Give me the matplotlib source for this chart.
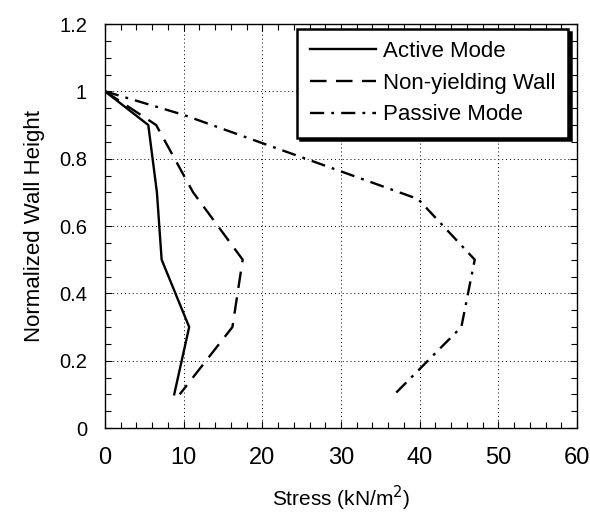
import matplotlib
matplotlib.use('Agg')
import matplotlib.pyplot as plt
from matplotlib.ticker import MultipleLocator

plt.rcParams['font.family'] = ['Liberation Sans', 'DejaVu Sans']

# normalized wall height for each series
active_h = [1.0, 0.9, 0.7, 0.5, 0.3, 0.1]
active_s = [0.0, 5.5, 6.6, 7.2, 10.7, 8.8]

nonyield_h = [1.0, 0.9, 0.7, 0.5, 0.3, 0.1]
nonyield_s = [0.0, 6.5, 11.2, 17.5, 16.2, 9.5]

passive_h = [1.0, 0.93, 0.68, 0.5, 0.3, 0.1]
passive_s = [0.0, 10.0, 39.8, 47.0, 45.3, 36.8]

fig = plt.figure(figsize=(5.9, 5.16), dpi=100)
ax = fig.add_axes([105 / 590, 1 - 428 / 516, 472 / 590, 404 / 516])

ax.plot(active_s, active_h, color='black', lw=1.7, label='Active Mode')
ax.plot(nonyield_s, nonyield_h, color='black', lw=1.7, dashes=(7, 4),
        label='Non-yielding Wall')
ax.plot(passive_s, passive_h, color='black', lw=1.7, dashes=(6, 3, 1.2, 3),
        label='Passive Mode')

ax.set_xlim(0, 60)
ax.set_ylim(0, 1.2)
ax.xaxis.set_major_locator(MultipleLocator(10))
ax.xaxis.set_minor_locator(MultipleLocator(2))
ax.yaxis.set_major_locator(MultipleLocator(0.2))
ax.yaxis.set_minor_locator(MultipleLocator(0.05))
ax.set_yticks([0, 0.2, 0.4, 0.6, 0.8, 1.0, 1.2])
ax.set_yticklabels(['0', '0.2', '0.4', '0.6', '0.8', '1', '1.2'])

ax.tick_params(which='both', direction='in', top=True, right=True, width=0.8)
ax.tick_params(which='major', length=5)
ax.tick_params(which='minor', length=4)
ax.tick_params(axis='x', which='major', labelsize=17, pad=14)
ax.tick_params(axis='y', which='major', labelsize=14.5, pad=13)

ax.grid(True, which='major', linestyle=(0, (1, 3)), color='black', lw=0.7)
for s in ax.spines.values():
    s.set_linewidth(1.0)

ax.set_xlabel('Stress (kN/m$^2$)', fontsize=15, labelpad=10)
ax.set_ylabel('Normalized Wall Height', fontsize=16, labelpad=10)

leg = ax.legend(loc='upper right', bbox_to_anchor=(0.981, 0.988),
                borderaxespad=0, fontsize=16, handlelength=3.0,
                handletextpad=0.32, labelspacing=0.48, borderpad=0.55,
                fancybox=False, framealpha=1, edgecolor='black',
                shadow={'color': 'black', 'alpha': 1})
leg.get_frame().set_linewidth(1.8)

fig.savefig('out.png', dpi=100)
